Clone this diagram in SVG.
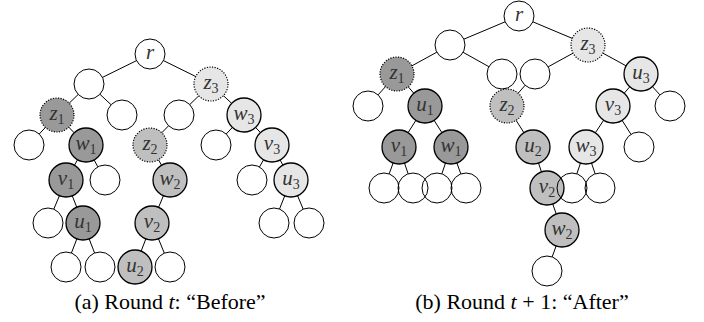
<svg xmlns="http://www.w3.org/2000/svg" width="704" height="322" viewBox="0 0 704 322">
<style>
.e{fill:none;stroke:#000;stroke-width:1}
.n{stroke:#000;stroke-width:1.3}
.z{stroke-dasharray:1.2 1.4;stroke-width:1.2}
.d{fill:#999}
.m{fill:#bfbfbf}
.l{fill:#e6e6e6}
.t{font-family:"Liberation Serif","DejaVu Serif",serif;font-style:italic;font-size:21px;fill:#333;text-anchor:middle}
.s{font-size:14px;font-style:normal}
.cap{font-family:"Liberation Serif",serif;font-size:22px;fill:#000;text-anchor:middle}
.ci{font-style:italic}
#edges line{stroke:#000;stroke-width:1}
</style>
<g id="edges">
<line x1="136.54" y1="60.62" x2="102.46" y2="77.38"/>
<line x1="163.46" y1="60.62" x2="195.75" y2="76.5"/>
<line x1="78.23" y1="94.44" x2="69.21" y2="103.17"/>
<line x1="99.93" y1="94.27" x2="111.07" y2="104.73"/>
<line x1="198.79" y1="95.83" x2="189.77" y2="104.56"/>
<line x1="223.39" y1="95.64" x2="231.61" y2="103.36"/>
<line x1="45.4" y1="127.43" x2="39.23" y2="134.03"/>
<line x1="68.81" y1="127.22" x2="74.19" y2="132.78"/>
<line x1="168.58" y1="125.78" x2="161.81" y2="132.78"/>
<line x1="232.4" y1="127.43" x2="226.23" y2="134.03"/>
<line x1="255.6" y1="127.43" x2="260.4" y2="132.57"/>
<line x1="77.57" y1="159.76" x2="74.43" y2="165.24"/>
<line x1="94.11" y1="159.94" x2="97.84" y2="166.82"/>
<line x1="158.43" y1="159.76" x2="161.57" y2="165.24"/>
<line x1="263.57" y1="159.76" x2="259.44" y2="166.98"/>
<line x1="280.11" y1="159.94" x2="282.89" y2="165.06"/>
<line x1="59.44" y1="195.68" x2="53.79" y2="209.16"/>
<line x1="72.25" y1="195.81" x2="76.75" y2="207.19"/>
<line x1="163.44" y1="195.68" x2="158.56" y2="207.32"/>
<line x1="284.75" y1="195.81" x2="279.51" y2="209.05"/>
<line x1="297.56" y1="195.68" x2="303.21" y2="209.16"/>
<line x1="76.87" y1="238.86" x2="71.41" y2="253.01"/>
<line x1="89.13" y1="238.86" x2="94.59" y2="253.01"/>
<line x1="145.87" y1="238.86" x2="141.13" y2="251.14"/>
<line x1="158.44" y1="238.73" x2="164.32" y2="253.12"/>
<line x1="505.17" y1="21.81" x2="463.83" y2="39.19"/>
<line x1="532.83" y1="21.81" x2="572.33" y2="38.41"/>
<line x1="436.84" y1="52.2" x2="411.91" y2="65.84"/>
<line x1="463.1" y1="52.31" x2="488.9" y2="66.69"/>
<line x1="573.09" y1="53.16" x2="548.16" y2="66.8"/>
<line x1="602.91" y1="53.16" x2="626.09" y2="65.84"/>
<line x1="385.58" y1="86.6" x2="378.07" y2="94.89"/>
<line x1="408.19" y1="86.79" x2="413.81" y2="93.21"/>
<line x1="525.12" y1="85.29" x2="518.19" y2="93.21"/>
<line x1="629.81" y1="86.79" x2="624.19" y2="93.21"/>
<line x1="652.42" y1="86.6" x2="659.93" y2="94.89"/>
<line x1="415.9" y1="120.36" x2="408.1" y2="132.64"/>
<line x1="434.1" y1="120.36" x2="441.9" y2="132.64"/>
<line x1="516.1" y1="120.36" x2="523.9" y2="132.64"/>
<line x1="603.65" y1="120.2" x2="595.35" y2="132.8"/>
<line x1="622.1" y1="120.36" x2="630.97" y2="134.33"/>
<line x1="393.16" y1="162.96" x2="389.15" y2="173.91"/>
<line x1="404.49" y1="163.09" x2="408.15" y2="173.8"/>
<line x1="445.51" y1="163.09" x2="441.85" y2="173.8"/>
<line x1="456.84" y1="162.96" x2="460.85" y2="173.91"/>
<line x1="538.49" y1="163.09" x2="541.51" y2="171.91"/>
<line x1="580.51" y1="163.09" x2="576.85" y2="173.8"/>
<line x1="591.49" y1="163.09" x2="595.15" y2="173.8"/>
<line x1="552.72" y1="204.01" x2="556.28" y2="213.99"/>
<line x1="556.16" y1="245.96" x2="552.15" y2="256.91"/>
</g>
<g id="tree-a">
<g id="a-r"><circle class="e" cx="150" cy="54" r="15"/><text class="t" x="150" y="59">r</text></g>
<g id="a-e1"><circle class="e" cx="89" cy="84" r="15"/></g>
<g id="a-z3"><circle class="n z l" cx="211" cy="84" r="17"/><text class="t" x="211" y="89">z<tspan class="s" dy="4">3</tspan></text></g>
<g id="a-z1"><circle class="n z d" cx="57" cy="115" r="17"/><text class="t" x="57" y="120">z<tspan class="s" dy="4">1</tspan></text></g>
<g id="a-e2"><circle class="e" cx="122" cy="115" r="15"/></g>
<g id="a-e3"><circle class="e" cx="179" cy="115" r="15"/></g>
<g id="a-w3"><circle class="n l" cx="244" cy="115" r="17"/><text class="t" x="244" y="120">w<tspan class="s" dy="4">3</tspan></text></g>
<g id="a-e4"><circle class="e" cx="29" cy="145" r="15"/></g>
<g id="a-w1"><circle class="n d" cx="86" cy="145" r="17"/><text class="t" x="86" y="150">w<tspan class="s" dy="4">1</tspan></text></g>
<g id="a-z2"><circle class="n z m" cx="150" cy="145" r="17"/><text class="t" x="150" y="150">z<tspan class="s" dy="4">2</tspan></text></g>
<g id="a-e5"><circle class="e" cx="216" cy="145" r="15"/></g>
<g id="a-v3"><circle class="n l" cx="272" cy="145" r="17"/><text class="t" x="272" y="150">v<tspan class="s" dy="4">3</tspan></text></g>
<g id="a-v1"><circle class="n d" cx="66" cy="180" r="17"/><text class="t" x="66" y="185">v<tspan class="s" dy="4">1</tspan></text></g>
<g id="a-e6"><circle class="e" cx="105" cy="180" r="15"/></g>
<g id="a-w2"><circle class="n m" cx="170" cy="180" r="17"/><text class="t" x="170" y="185">w<tspan class="s" dy="4">2</tspan></text></g>
<g id="a-e7"><circle class="e" cx="252" cy="180" r="15"/></g>
<g id="a-u3"><circle class="n l" cx="291" cy="180" r="17"/><text class="t" x="291" y="185">u<tspan class="s" dy="4">3</tspan></text></g>
<g id="a-e8"><circle class="e" cx="48" cy="223" r="15"/></g>
<g id="a-u1"><circle class="n d" cx="83" cy="223" r="17"/><text class="t" x="83" y="228">u<tspan class="s" dy="4">1</tspan></text></g>
<g id="a-v2"><circle class="n m" cx="152" cy="223" r="17"/><text class="t" x="152" y="228">v<tspan class="s" dy="4">2</tspan></text></g>
<g id="a-e9"><circle class="e" cx="274" cy="223" r="15"/></g>
<g id="a-e10"><circle class="e" cx="309" cy="223" r="15"/></g>
<g id="a-e11"><circle class="e" cx="66" cy="267" r="15"/></g>
<g id="a-e12"><circle class="e" cx="100" cy="267" r="15"/></g>
<g id="a-u2"><circle class="n m" cx="135" cy="267" r="17"/><text class="t" x="135" y="272">u<tspan class="s" dy="4">2</tspan></text></g>
<g id="a-e13"><circle class="e" cx="170" cy="267" r="15"/></g>
</g>
<g id="tree-b">
<g id="b-r"><circle class="e" cx="519" cy="16" r="15"/><text class="t" x="519" y="21">r</text></g>
<g id="b-e1"><circle class="e" cx="450" cy="45" r="15"/></g>
<g id="b-z3"><circle class="n z l" cx="588" cy="45" r="17"/><text class="t" x="588" y="50">z<tspan class="s" dy="4">3</tspan></text></g>
<g id="b-z1"><circle class="n z d" cx="397" cy="74" r="17"/><text class="t" x="397" y="79">z<tspan class="s" dy="4">1</tspan></text></g>
<g id="b-e2"><circle class="e" cx="502" cy="74" r="15"/></g>
<g id="b-e3"><circle class="e" cx="535" cy="74" r="15"/></g>
<g id="b-u3"><circle class="n l" cx="641" cy="74" r="17"/><text class="t" x="641" y="79">u<tspan class="s" dy="4">3</tspan></text></g>
<g id="b-e4"><circle class="e" cx="368" cy="106" r="15"/></g>
<g id="b-u1"><circle class="n d" cx="425" cy="106" r="17"/><text class="t" x="425" y="111">u<tspan class="s" dy="4">1</tspan></text></g>
<g id="b-z2"><circle class="n z m" cx="507" cy="106" r="17"/><text class="t" x="507" y="111">z<tspan class="s" dy="4">2</tspan></text></g>
<g id="b-v3"><circle class="n l" cx="613" cy="106" r="17"/><text class="t" x="613" y="111">v<tspan class="s" dy="4">3</tspan></text></g>
<g id="b-e5"><circle class="e" cx="670" cy="106" r="15"/></g>
<g id="b-v1"><circle class="n d" cx="399" cy="147" r="17"/><text class="t" x="399" y="152">v<tspan class="s" dy="4">1</tspan></text></g>
<g id="b-w1"><circle class="n d" cx="451" cy="147" r="17"/><text class="t" x="451" y="152">w<tspan class="s" dy="4">1</tspan></text></g>
<g id="b-u2"><circle class="n m" cx="533" cy="147" r="17"/><text class="t" x="533" y="152">u<tspan class="s" dy="4">2</tspan></text></g>
<g id="b-w3"><circle class="n l" cx="586" cy="147" r="17"/><text class="t" x="586" y="152">w<tspan class="s" dy="4">3</tspan></text></g>
<g id="b-e6"><circle class="e" cx="639" cy="147" r="15"/></g>
<g id="b-e7"><circle class="e" cx="384" cy="188" r="15"/></g>
<g id="b-e8"><circle class="e" cx="413" cy="188" r="15"/></g>
<g id="b-e9"><circle class="e" cx="437" cy="188" r="15"/></g>
<g id="b-e10"><circle class="e" cx="466" cy="188" r="15"/></g>
<g id="b-v2"><circle class="n m" cx="547" cy="188" r="17"/><text class="t" x="547" y="193">v<tspan class="s" dy="4">2</tspan></text></g>
<g id="b-e11"><circle class="e" cx="572" cy="188" r="15"/></g>
<g id="b-e12"><circle class="e" cx="600" cy="188" r="15"/></g>
<g id="b-w2"><circle class="n m" cx="562" cy="230" r="17"/><text class="t" x="562" y="235">w<tspan class="s" dy="4">2</tspan></text></g>
<g id="b-e13"><circle class="e" cx="547" cy="271" r="15"/></g>
</g>
<g id="captions">
<text class="cap" x="170" y="309">(a) Round <tspan class="ci">t</tspan>: “Before”</text>
<text class="cap" x="522" y="309">(b) Round <tspan class="ci">t</tspan> + 1: “After”</text>
</g>
</svg>
